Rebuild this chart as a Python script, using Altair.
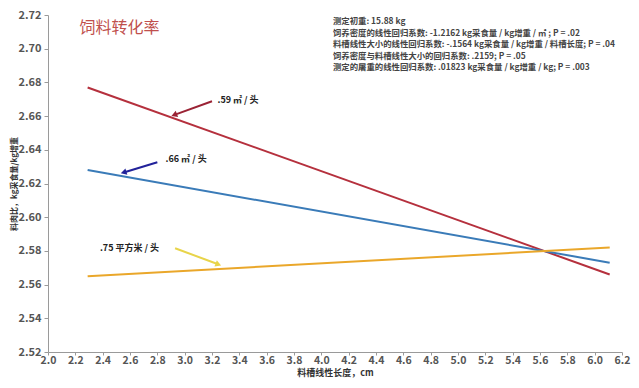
import altair as alt
import pandas as pd

# Regression lines (endpoints)
series = [".59", ".66", ".75"]
x_start = [2.29, 2.29, 2.29]
x_end = [6.11, 6.11, 6.11]
y_start = [2.677, 2.628, 2.565]
y_end = [2.566, 2.573, 2.582]
line_colors = ["#b5303d", "#3a7bb8", "#eaa72a"]

# Series labels and arrows
labels = [".59 ㎡ / 头", ".66 ㎡ / 头", ".75 平方米 / 头"]
label_x = [3.24, 2.86, 2.38]
label_y = [2.6696, 2.6344, 2.5818]
arrow_x = [3.20, 2.80, 2.93]
arrow_y = [2.6688, 2.6326, 2.5816]
arrow_x2 = [2.93, 2.56, 3.24]
arrow_y2 = [2.6609, 2.6267, 2.5722]
arrow_angle = [249, 253, 111]
arrow_colors = ["#9b2335", "#22229a", "#e8d44a"]

# Statistics text block
stats = [
    "测定初重: 15.88 kg",
    "饲养密度的线性回归系数: -1.2162 kg采食量 / kg增重 / ㎡ ; P = .02",
    "料槽线性大小的线性回归系数: -.1564 kg采食量 / kg增重 / 料槽长度; P = .04",
    "饲养密度与料槽线性大小的回归系数: .2159; P = .05",
    "测定的屠重的线性回归系数: .01823 kg采食量 / kg增重 / kg; P = .003",
]
stats_x = 4.085
stats_y = [2.7165, 2.7095, 2.7025, 2.6958, 2.6893]

title_text = "饲料转化率"
title_x = 2.23
title_y = 2.712

x_ticks = [round(2.0 + 0.2 * i, 1) for i in range(22)]
y_ticks = [round(2.52 + 0.02 * i, 2) for i in range(11)]

font = "Noto Sans CJK SC"

lines_df = pd.DataFrame({
    "series": series * 2,
    "x": x_start + x_end,
    "y": y_start + y_end,
})

xs = alt.Scale(domain=[2.0, 6.2], nice=False, zero=False)
ys = alt.Scale(domain=[2.52, 2.72], nice=False, zero=False)

x_axis = alt.Axis(
    values=x_ticks, format=".1f", title="料槽线性长度，cm",
    grid=False, labelFont=font, labelFontWeight="bold", labelFontSize=10.5,
    labelColor="#555555", titleFont=font, titleFontSize=9, titleFontWeight="bold",
    titleColor="#333333", domainColor="#9a9a9a", tickColor="#9a9a9a", tickSize=3,
    labelPadding=0, titlePadding=3, labelFlush=False, labelOverlap=False)
y_axis = alt.Axis(
    values=y_ticks, format=".2f", title="料肉比，kg采食量/kg增重",
    grid=False, labelFont=font, labelFontWeight="bold", labelFontSize=11,
    labelColor="#555555", titleFont=font, titleFontSize=8, titleFontWeight="bold",
    titleColor="#333333", domainColor="#9a9a9a", tickColor="#9a9a9a", tickSize=4,
    labelPadding=3, titleX=-30, titleBaseline="bottom", labelOverlap=False,
    labelFlush=False)


def X(field):
    return alt.X(field, scale=xs, axis=x_axis, title="料槽线性长度，cm")


def Y(field):
    return alt.Y(field, scale=ys, axis=y_axis, title="料肉比，kg采食量/kg增重")


lines = alt.Chart(lines_df).mark_line(strokeWidth=2).encode(
    x=X("x:Q"), y=Y("y:Q"),
    color=alt.Color("series:N", scale=alt.Scale(domain=series, range=line_colors), legend=None),
)

ann_df = pd.DataFrame({
    "label": labels, "lx": label_x, "ly": label_y,
    "ax": arrow_x, "ay": arrow_y, "ax2": arrow_x2, "ay2": arrow_y2,
    "angle": arrow_angle, "acol": arrow_colors,
})

arrows = alt.Chart(ann_df).mark_rule(strokeWidth=2).encode(
    x=X("ax:Q"), y=Y("ay:Q"),
    x2="ax2:Q", y2="ay2:Q",
    color=alt.Color("acol:N", scale=None),
)
heads = alt.Chart(ann_df).mark_point(shape="triangle", filled=True, size=45, opacity=1).encode(
    x=X("ax2:Q"), y=Y("ay2:Q"),
    angle=alt.Angle("angle:Q", scale=None),
    color=alt.Color("acol:N", scale=None),
)
ann_text = alt.Chart(ann_df).mark_text(
    align="left", baseline="middle", font=font, fontSize=9, fontWeight="bold", color="#222222"
).encode(x=X("lx:Q"), y=Y("ly:Q"), text="label:N")

stats_df = pd.DataFrame({"t": stats, "x": [stats_x] * len(stats), "y": stats_y})
stats_text = alt.Chart(stats_df).mark_text(
    align="left", baseline="middle", font=font, fontSize=8.4, fontWeight="bold", color="#444444"
).encode(x=X("x:Q"), y=Y("y:Q"), text="t:N")

title_df = pd.DataFrame({"t": [title_text], "x": [title_x], "y": [title_y]})
title = alt.Chart(title_df).mark_text(
    align="left", baseline="middle", font=font, fontSize=16, color="#c0504d"
).encode(x=X("x:Q"), y=Y("y:Q"), text="t:N")

chart = alt.layer(lines, arrows, heads, ann_text, stats_text, title).properties(
    width=574, height=337,
    autosize=alt.AutoSizeParams(type="none"),
    padding={"left": 40, "top": 7, "right": 9, "bottom": 34},
    background="white",
).configure_view(stroke=None)

chart.save("out.html", embed_options={"renderer": "svg", "actions": False})
